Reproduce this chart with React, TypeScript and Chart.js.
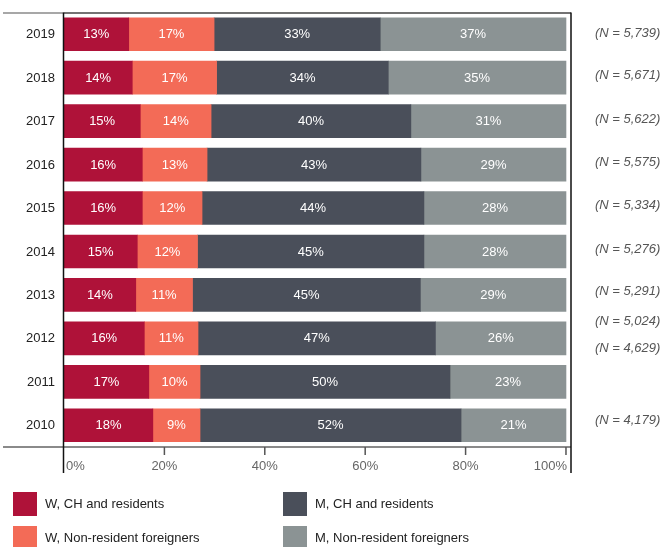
import React, { useEffect, useRef } from "react";
import { Chart, registerables } from "chart.js";

Chart.register(...registerables);

const years = ["2019", "2018", "2017", "2016", "2015", "2014", "2013", "2012", "2011", "2010"];
const wCH = [12.9, 13.6, 15.2, 15.6, 15.6, 14.6, 14.3, 16.0, 16.9, 17.7];
const wNR = [17.0, 16.8, 14.1, 12.9, 11.9, 12.0, 11.3, 10.7, 10.2, 9.4];
const mCH = [33.1, 34.2, 39.8, 42.6, 44.2, 45.1, 45.4, 47.3, 49.8, 52.0];
const mNR = [37.0, 35.4, 30.9, 28.9, 28.3, 28.3, 29.0, 26.0, 23.1, 20.9];
const nLabels = [
  "(N = 5,739)", "(N = 5,671)", "(N = 5,622)", "(N = 5,575)", "(N = 5,334)",
  "(N = 5,276)", "(N = 5,291)", "(N = 5,024)", "(N = 4,629)", "(N = 4,179)",
];
const nLabelShift = [-0.03, -0.05, -0.05, -0.05, -0.05, -0.05, -0.07, -0.4, -0.76, -0.12];
const xTicks = [0, 20, 40, 60, 80, 100];
const seriesNames = ["W, CH and residents", "W, Non-resident foreigners", "M, CH and residents", "M, Non-resident foreigners"];
const colors = ["#AF1239", "#F36B57", "#4A4F5A", "#8B9394"];

const FONT = "'Liberation Sans', Arial, sans-serif";

const framePlugin = {
  id: "frame",
  afterDatasetsDraw(chart: any) {
    const ctx = chart.ctx;
    const { top, bottom, left, right } = chart.chartArea;
    const xs = chart.scales.x;
    const ys = chart.scales.y;
    ctx.save();

    // bar value labels
    ctx.font = `13px ${FONT}`;
    ctx.fillStyle = "#ffffff";
    ctx.textAlign = "center";
    ctx.textBaseline = "middle";
    chart.data.datasets.forEach((ds: any, di: number) => {
      const meta = chart.getDatasetMeta(di);
      meta.data.forEach((el: any, i: number) => {
        const v = ds.data[i];
        ctx.fillText(Math.round(v) + "%", (el.x + el.base) / 2, el.y + 0.5);
      });
    });

    // frame lines
    ctx.lineCap = "butt";
    ctx.strokeStyle = "#8a8a8a";
    ctx.lineWidth = 1.5;
    ctx.beginPath();
    ctx.moveTo(3, top + 0.5);
    ctx.lineTo(left, top + 0.5);
    ctx.stroke();
    ctx.strokeStyle = "#444";
    ctx.beginPath();
    ctx.moveTo(left, top + 0.5);
    ctx.lineTo(right, top + 0.5);
    ctx.stroke();

    ctx.strokeStyle = "#8a8a8a";
    ctx.lineWidth = 2;
    ctx.beginPath();
    ctx.moveTo(3, bottom);
    ctx.lineTo(right, bottom);
    ctx.stroke();

    ctx.strokeStyle = "#111";
    ctx.lineWidth = 1.5;
    ctx.beginPath();
    ctx.moveTo(left - 0.5, top);
    ctx.lineTo(left - 0.5, bottom + 26);
    ctx.moveTo(right, top);
    ctx.lineTo(right, bottom + 26);
    ctx.stroke();

    // x ticks
    ctx.strokeStyle = "#555";
    ctx.lineWidth = 1.5;
    xTicks.forEach((t) => {
      if (t === 0) return;
      const px = xs.getPixelForValue(t);
      ctx.beginPath();
      ctx.moveTo(px, bottom);
      ctx.lineTo(px, bottom + 8);
      ctx.stroke();
    });
    ctx.fillStyle = "#666";
    ctx.font = `13px ${FONT}`;
    ctx.textBaseline = "middle";
    xTicks.forEach((t, i) => {
      const px = xs.getPixelForValue(t);
      if (i === 0) {
        ctx.textAlign = "left";
        ctx.fillText(t + "%", px + 2, bottom + 19);
      } else if (i === xTicks.length - 1) {
        ctx.textAlign = "right";
        ctx.fillText(t + "%", px + 1, bottom + 19);
      } else {
        ctx.textAlign = "center";
        ctx.fillText(t + "%", px, bottom + 19);
      }
    });

    // y labels
    ctx.fillStyle = "#222";
    ctx.textAlign = "right";
    years.forEach((y, i) => {
      ctx.fillText(y, 55, ys.getPixelForValue(i) + 0.5);
    });

    // N labels
    ctx.fillStyle = "#555";
    ctx.font = `italic 13px ${FONT}`;
    ctx.textAlign = "left";
    nLabels.forEach((n, i) => {
      ctx.fillText(n, 595, ys.getPixelForValue(i + nLabelShift[i]));
    });

    // legend
    ctx.font = `13px ${FONT}`;
    ctx.textBaseline = "middle";
    const cols = [13, 283];
    const rows = [492, 526];
    chart.data.datasets.forEach((ds: any, di: number) => {
      const cx = cols[Math.floor(di / 2)];
      const ry = rows[di % 2];
      ctx.fillStyle = ds.backgroundColor;
      ctx.fillRect(cx, ry, 24, 24);
      ctx.fillStyle = "#222";
      ctx.fillText(ds.label, cx + 32, ry + 12.5);
    });

    ctx.restore();
  },
};

export default function App() {
  const ref = useRef<HTMLCanvasElement>(null);
  useEffect(() => {
    document.body.style.margin = "0";
    const chart = new Chart(ref.current as HTMLCanvasElement, {
      type: "bar",
      data: {
        labels: years,
        datasets: [wCH, wNR, mCH, mNR].map((d, i) => ({
          label: seriesNames[i],
          data: d,
          backgroundColor: colors[i],
          borderWidth: 0,
          barThickness: 33,
        })),
      },
      options: {
        indexAxis: "y",
        animation: false,
        responsive: false,
        maintainAspectRatio: false,
        layout: { padding: { left: 64, right: 90, top: 12.5, bottom: 100 } },
        scales: {
          x: { stacked: true, min: 0, max: 101, display: false },
          y: { stacked: true, display: false },
        },
        plugins: {
          legend: { display: false },
          tooltip: { enabled: false },
          title: { display: false },
        },
      },
      plugins: [framePlugin],
    } as any);
    return () => chart.destroy();
  }, []);
  return <canvas ref={ref} width={661} height={547} style={{ display: "block" }} />;
}
